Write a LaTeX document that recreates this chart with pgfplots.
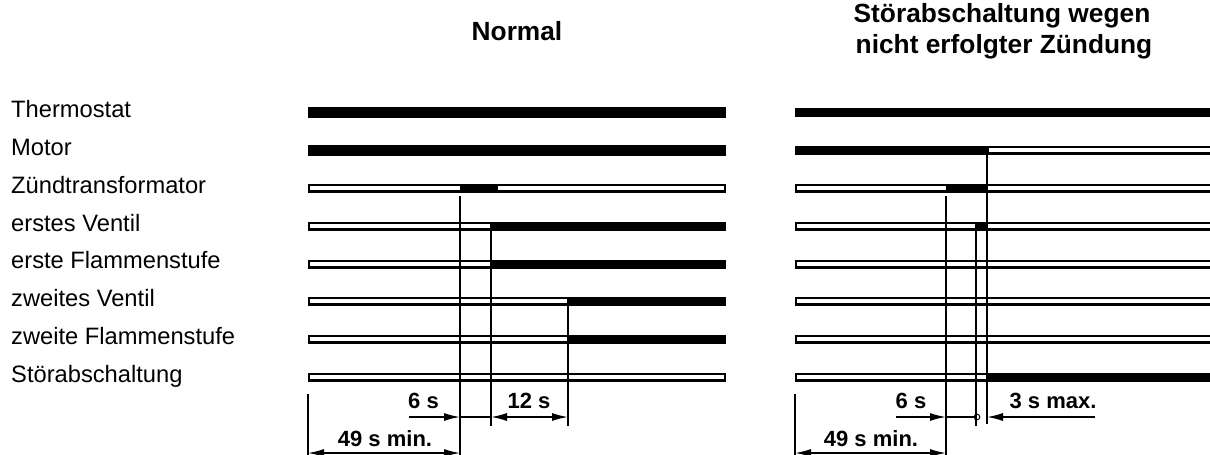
\documentclass[border=0pt]{standalone}
\usepackage{pgfplots}
\pgfplotsset{compat=1.18}
\usepackage{fontspec}
\setmainfont{Liberation Sans}
\usetikzlibrary{arrows.meta}
\newcommand{\lab}{\fontsize{23.7}{28}\selectfont}
\newcommand{\ttl}{\fontsize{26.3}{30}\selectfont\bfseries}
\newcommand{\dimtxt}{\fontsize{22}{26}\selectfont\bfseries}
\begin{document}
\begin{tikzpicture}[>={Latex[length=16pt,width=8pt]}]
\begin{axis}[
  hide axis, scale only axis,
  width=1210pt, height=455pt,
  xmin=0, xmax=1210, ymin=0, ymax=455,
  y dir=reverse, clip=true,
  every axis plot/.append style={line cap=butt},
]
\path (axis cs:0,0) rectangle (axis cs:1210,455);
% ---------------- Left panel (Normal) ----------------
% full black bars
\addplot[black, line width=11pt] coordinates {(308,112) (726,112)};
\addplot[black, line width=11pt] coordinates {(308,150) (726,150)};
% outlined bars
\addplot[black, line width=9pt] coordinates {(308,188) (726,188)};
\addplot[white, line width=4.4pt] coordinates {(310.3,188) (723.7,188)};
\addplot[black, line width=9pt] coordinates {(308,226) (726,226)};
\addplot[white, line width=4.4pt] coordinates {(310.3,226) (723.7,226)};
\addplot[black, line width=9pt] coordinates {(308,264) (726,264)};
\addplot[white, line width=4.4pt] coordinates {(310.3,264) (723.7,264)};
\addplot[black, line width=9pt] coordinates {(308,301) (726,301)};
\addplot[white, line width=4.4pt] coordinates {(310.3,301) (723.7,301)};
\addplot[black, line width=9pt] coordinates {(308,339) (726,339)};
\addplot[white, line width=4.4pt] coordinates {(310.3,339) (723.7,339)};
\addplot[black, line width=9pt] coordinates {(308,377) (726,377)};
\addplot[white, line width=4.4pt] coordinates {(310.3,377) (723.7,377)};
% active sections
\addplot[black, line width=9pt] coordinates {(460,188) (498,188)};
\addplot[black, line width=9pt] coordinates {(491,226) (726,226)};
\addplot[black, line width=9pt] coordinates {(491,264) (726,264)};
\addplot[black, line width=9pt] coordinates {(568,301) (726,301)};
\addplot[black, line width=9pt] coordinates {(568,339) (726,339)};
% vertical lines
\addplot[black, line width=1.7pt] coordinates {(460,196) (460,456)};
\addplot[black, line width=1.7pt] coordinates {(491,222) (491,426)};
\addplot[black, line width=1.7pt] coordinates {(568,297) (568,426)};
\addplot[black, line width=1.7pt] coordinates {(308,394) (308,456)};
% dimension arrows
\addplot[black, line width=1.5pt, ->] coordinates {(409,417) (460,417)};
\addplot[black, line width=1.5pt] coordinates {(460,417) (491,417)};
\addplot[black, line width=1.5pt, <->] coordinates {(491,417) (568,417)};
\addplot[black, line width=1.5pt, <->] coordinates {(308,453) (460,453)};
% ---------------- Right panel (Störabschaltung) ----------------
\addplot[black, line width=9pt] coordinates {(795,112) (1212,112)};
% Motor
\addplot[black, line width=9pt] coordinates {(795,150) (1212,150)};
\addplot[white, line width=4.4pt] coordinates {(989.3,150) (1212,150)};
% outlined bars
\addplot[black, line width=9pt] coordinates {(795,188) (1212,188)};
\addplot[white, line width=4.4pt] coordinates {(797.3,188) (1212,188)};
\addplot[black, line width=9pt] coordinates {(795,226) (1212,226)};
\addplot[white, line width=4.4pt] coordinates {(797.3,226) (1212,226)};
\addplot[black, line width=9pt] coordinates {(795,264) (1212,264)};
\addplot[white, line width=4.4pt] coordinates {(797.3,264) (1212,264)};
\addplot[black, line width=9pt] coordinates {(795,301) (1212,301)};
\addplot[white, line width=4.4pt] coordinates {(797.3,301) (1212,301)};
\addplot[black, line width=9pt] coordinates {(795,339) (1212,339)};
\addplot[white, line width=4.4pt] coordinates {(797.3,339) (1212,339)};
\addplot[black, line width=9pt] coordinates {(795,377) (1212,377)};
\addplot[white, line width=4.4pt] coordinates {(797.3,377) (1212,377)};
% active sections
\addplot[black, line width=9pt] coordinates {(946,188) (987,188)};
\addplot[black, line width=9pt] coordinates {(976,226) (987,226)};
\addplot[black, line width=9pt] coordinates {(987,377) (1212,377)};
% vertical lines
\addplot[black, line width=1.7pt] coordinates {(946,196) (946,456)};
\addplot[black, line width=1.7pt] coordinates {(976,222) (976,426)};
\addplot[black, line width=1.7pt] coordinates {(987,146) (987,424)};
\addplot[black, line width=1.7pt] coordinates {(795,394) (795,456)};
% dimension arrows
\addplot[black, line width=1.5pt, ->] coordinates {(896,417) (946,417)};
\addplot[black, line width=1.5pt] coordinates {(946,417) (976,417)};
\addplot[black, line width=1.5pt, ->] coordinates {(1095,417) (987,417)};
\addplot[black, only marks, mark=o, mark size=2.8pt, mark options={line width=1pt, fill=white}] coordinates {(977,417)};
\addplot[black, line width=1.5pt, <->] coordinates {(795,453) (946,453)};
% ---------------- Texts ----------------
\node[anchor=base, font=\ttl] at (axis cs:517,40) {Normal};
\node[anchor=base, font=\ttl] at (axis cs:1002,22.7) {Störabschaltung wegen};
\node[anchor=base, font=\ttl] at (axis cs:1004,53.3) {nicht erfolgter Zündung};
\begin{scope}[every node/.style={anchor=base west, font=\lab, inner sep=0pt}]
\node at (axis cs:11,117) {Thermostat};
\node at (axis cs:11,155) {Motor};
\node at (axis cs:11,193) {Zündtransformator};
\node at (axis cs:11,231.5) {erstes Ventil};
\node at (axis cs:11,268.5) {erste Flammenstufe};
\node at (axis cs:11,306) {zweites Ventil};
\node at (axis cs:11,344) {zweite Flammenstufe};
\node at (axis cs:11,382) {Störabschaltung};
\end{scope}
\node[anchor=base, font=\dimtxt] at (axis cs:423.5,408) {6 s};
\node[anchor=base, font=\dimtxt] at (axis cs:529,408) {12 s};
\node[anchor=base, font=\dimtxt] at (axis cs:385,446.5) {49 s min.};
\node[anchor=base, font=\dimtxt] at (axis cs:911,408) {6 s};
\node[anchor=base, font=\dimtxt] at (axis cs:1053,408) {3 s max.};
\node[anchor=base, font=\dimtxt] at (axis cs:871,446.5) {49 s min.};
\end{axis}
\end{tikzpicture}
\end{document}
